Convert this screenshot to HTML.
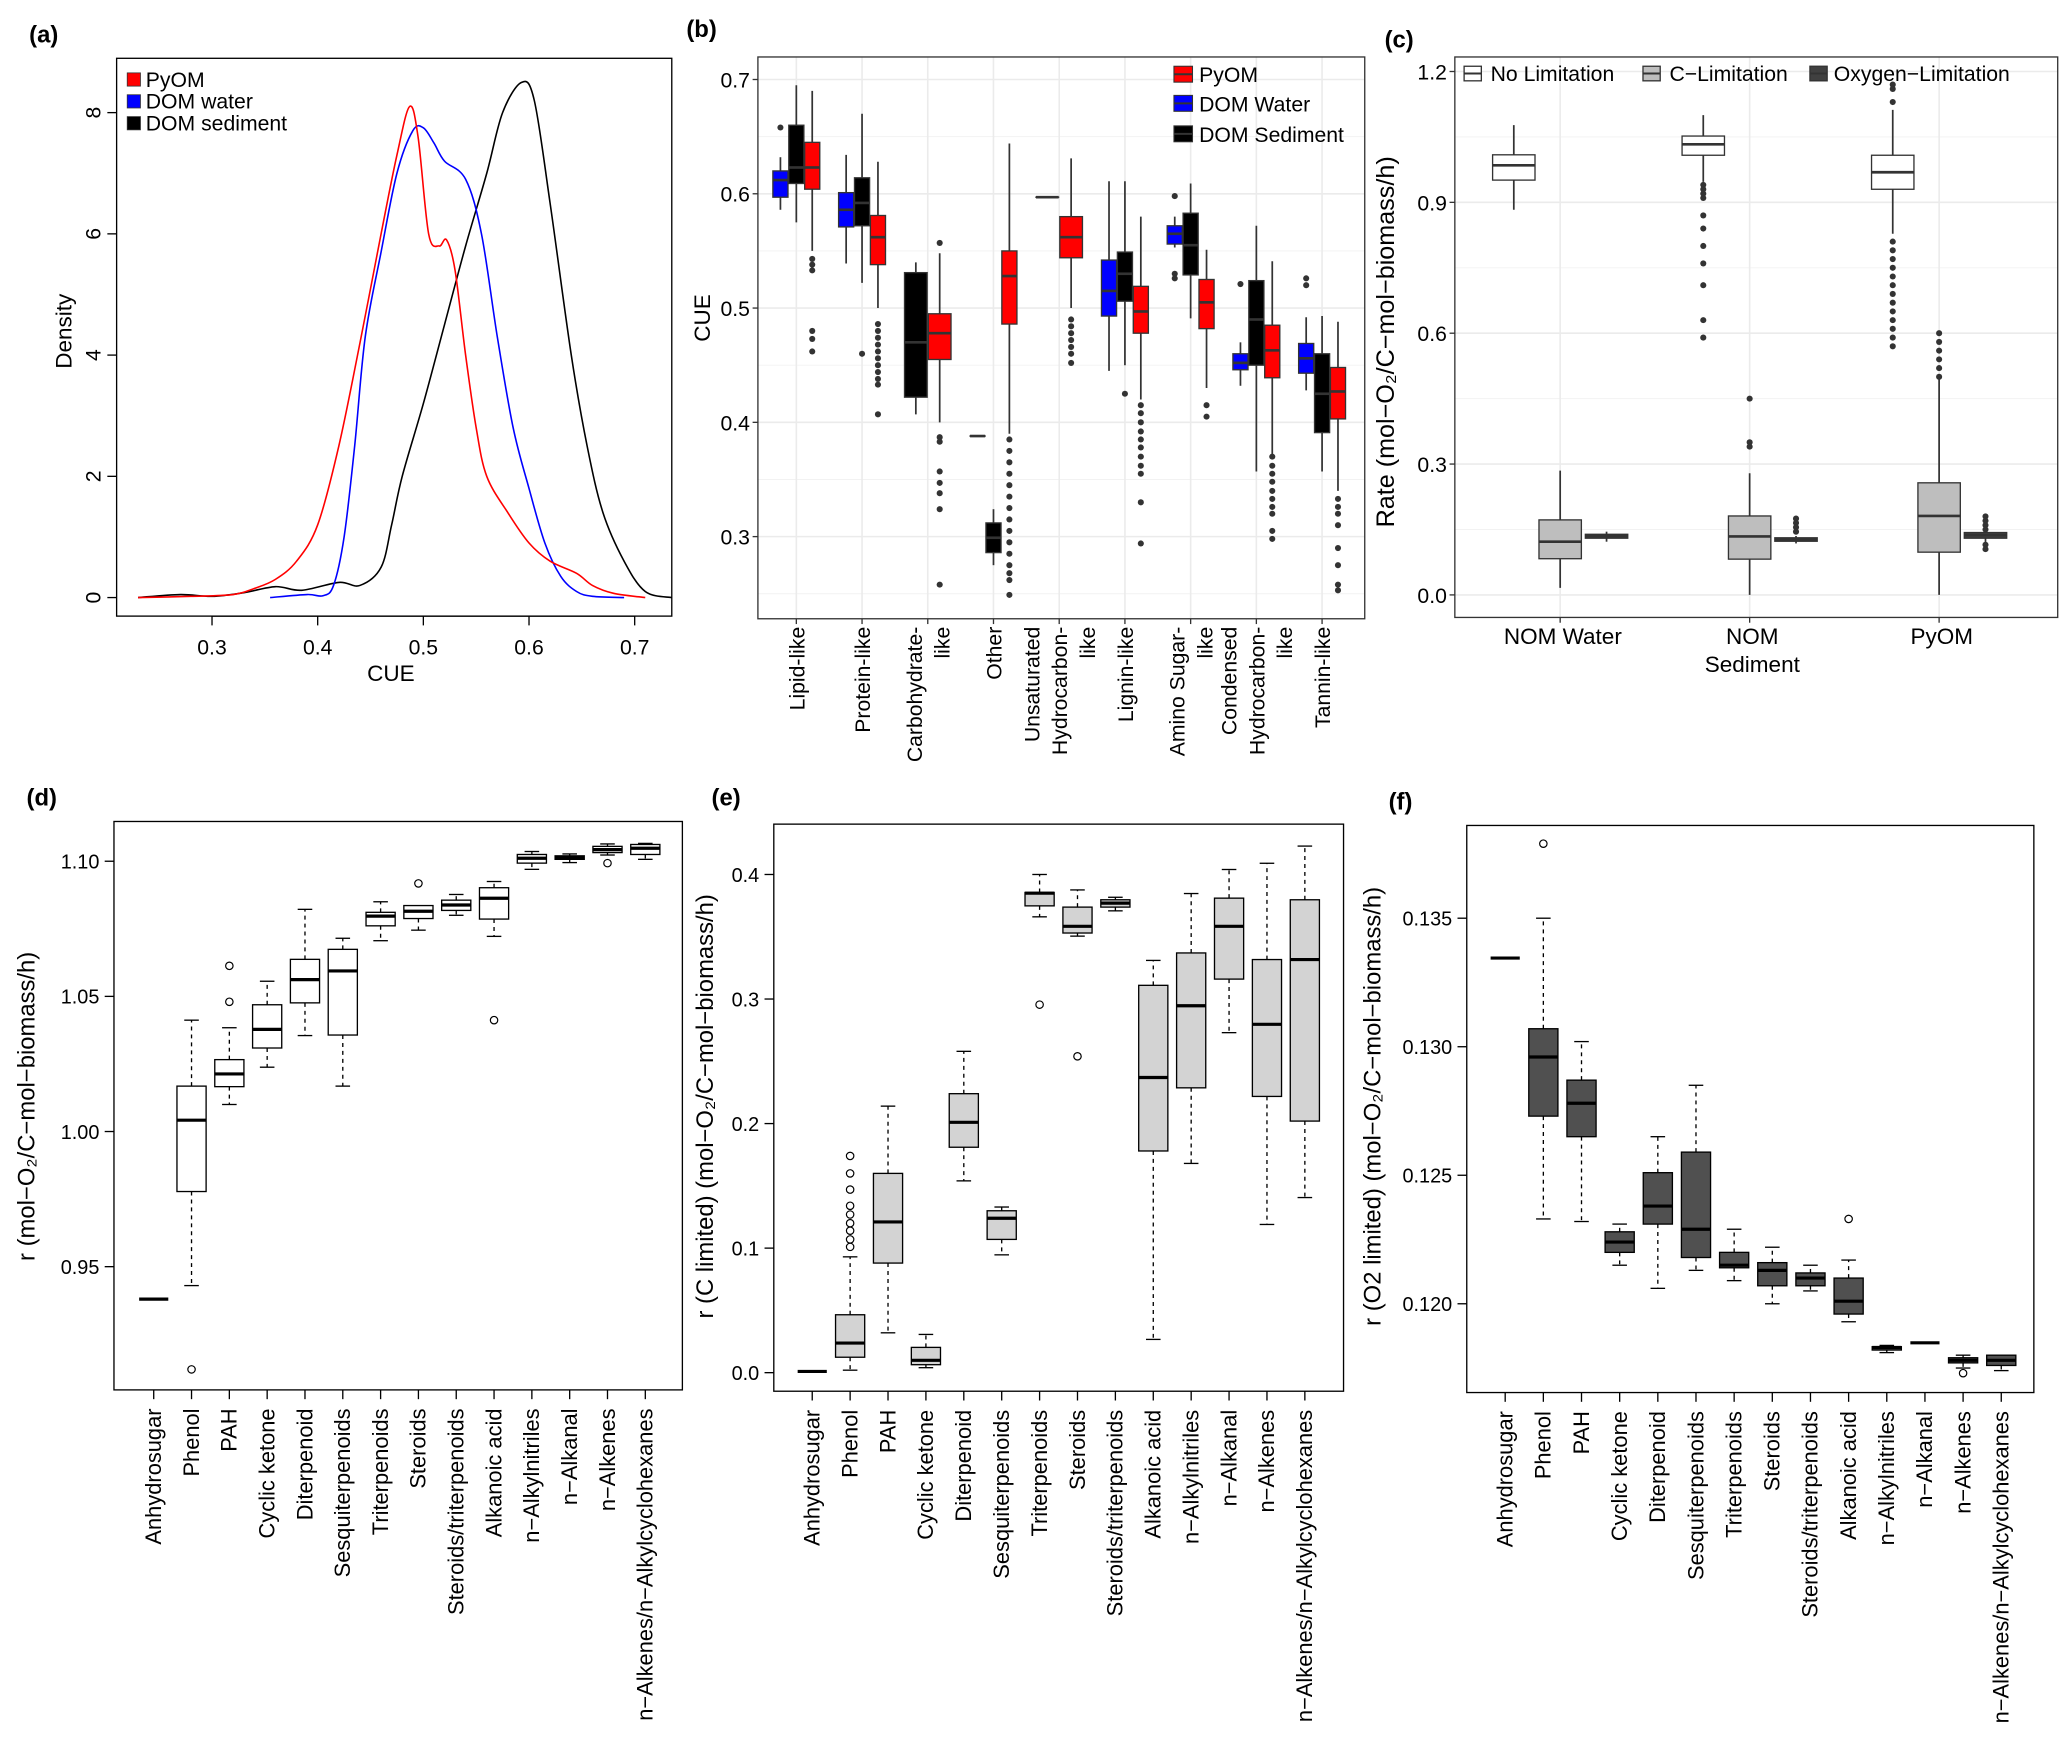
<!DOCTYPE html>
<html><head><meta charset="utf-8"><title>CUE and rate figure</title>
<style>
html,body{margin:0;padding:0;background:#fff;}
svg{display:block;font-family:"Liberation Sans",Arial,sans-serif;}
</style></head>
<body>
<svg id="chart" xmlns="http://www.w3.org/2000/svg" width="2067" height="1743" viewBox="0 0 1560 1315.5">
<rect x="0" y="0" width="1560" height="1315.5" fill="#fff"/>
</svg>
<script>
// ---------- Panel (a) density data ----------
const pyomX=[0.23,0.28,0.32,0.34,0.36,0.38,0.40,0.42,0.44,0.46,0.475,0.487,0.495,0.505,0.515,0.522,0.53,0.54,0.55,0.56,0.58,0.60,0.62,0.645,0.66,0.68,0.71];
const pyomY=[0,0.02,0.05,0.15,0.3,0.6,1.2,2.5,4.2,6.0,7.3,8.1,7.6,6.0,5.8,5.9,5.4,4.0,2.8,2.0,1.4,0.9,0.6,0.4,0.2,0.07,0];
const waterX=[0.355,0.39,0.405,0.415,0.425,0.435,0.445,0.46,0.475,0.49,0.50,0.51,0.52,0.54,0.555,0.57,0.585,0.60,0.615,0.63,0.645,0.66,0.69];
const waterY=[0,0.05,0.03,0.2,1.0,2.5,4.3,5.7,7.0,7.7,7.75,7.5,7.2,6.9,6.0,4.3,2.8,1.8,0.9,0.35,0.1,0.02,0];
const sedX=[0.23,0.27,0.30,0.33,0.36,0.385,0.42,0.44,0.46,0.47,0.48,0.50,0.52,0.54,0.56,0.575,0.593,0.605,0.62,0.64,0.655,0.67,0.69,0.71,0.735];
const sedY=[0,0.05,0.02,0.08,0.18,0.12,0.25,0.2,0.5,1.2,2.0,3.2,4.5,5.8,7.0,8.0,8.5,8.2,6.5,4.0,2.5,1.4,0.6,0.1,0];
const aXTicks=[0.3,0.4,0.5,0.6,0.7];
const aYTicks=[0,2,4,6,8];

// ---------- Panel (b) CUE boxplots ----------
const bCats=[["Lipid-like"],["Protein-like"],["Carbohydrate-","like"],["Other"],["Unsaturated","Hydrocarbon-","like"],["Lignin-like"],["Amino Sugar-","like"],["Condensed","Hydrocarbon-","like"],["Tannin-like"]];
const bSeriesNames=["DOM Water","DOM Sediment","PyOM"];
const bWater=[[0.586,0.597,0.612,0.620,0.632],[0.539,0.571,0.586,0.601,0.634],null,[0.388,0.388,0.388,0.388,0.388],[0.597,0.597,0.597,0.597,0.597],[0.445,0.493,0.515,0.542,0.611],[0.553,0.556,0.565,0.572,0.58],[0.432,0.446,0.452,0.460,0.470],[0.428,0.443,0.456,0.469,0.492]];
const bSed=[[0.575,0.609,0.623,0.660,0.695],[0.522,0.572,0.592,0.614,0.670],[0.407,0.422,0.470,0.531,0.540],[0.275,0.286,0.299,0.312,0.324],null,[0.450,0.506,0.530,0.549,0.611],[0.491,0.529,0.555,0.583,0.609],[0.357,0.450,0.490,0.524,0.572],[0.357,0.391,0.425,0.460,0.493]];
const bPyom=[[0.55,0.604,0.623,0.645,0.690],[0.50,0.538,0.562,0.581,0.628],[0.40,0.455,0.478,0.495,0.548],[0.39,0.486,0.528,0.550,0.644],[0.50,0.544,0.562,0.580,0.631],[0.42,0.478,0.497,0.519,0.580],[0.43,0.482,0.505,0.525,0.551],[0.37,0.439,0.463,0.485,0.541],[0.34,0.403,0.427,0.448,0.488]];
const bWaterOut=[[0.658],[],[],[],[],[],[0.598,0.530,0.526],[0.521],[0.526,0.52]];
const bSedOut=[[],[0.46],[],[],[],[0.425],[],[],[]];
const bPyomOut=[[0.543,0.538,0.533,0.48,0.473,0.462],[0.486,0.48,0.474,0.468,0.462,0.456,0.45,0.444,0.438,0.433,0.407],[0.557,0.387,0.383,0.357,0.347,0.338,0.324,0.258],[0.385,0.375,0.365,0.355,0.345,0.335,0.325,0.315,0.305,0.295,0.285,0.275,0.268,0.262,0.249],[0.49,0.484,0.478,0.472,0.466,0.46,0.452],[0.415,0.408,0.4,0.392,0.385,0.378,0.37,0.362,0.355,0.33,0.294],[0.415,0.405],[0.37,0.362,0.355,0.348,0.34,0.333,0.326,0.32,0.305,0.298],[0.333,0.326,0.32,0.31,0.29,0.275,0.258,0.253]];
const bYTicks=[0.3,0.4,0.5,0.6,0.7];

// ---------- Panel (c) rates ----------
const cCats=[["NOM Water"],["NOM","Sediment"],["PyOM"]];
const cSeriesNames=["No Limitation","C-Limitation","Oxygen-Limitation"];
const cNoLim=[[0.883,0.951,0.985,1.009,1.077],[0.947,1.008,1.033,1.052,1.100],[0.828,0.930,0.969,1.008,1.112]];
const cCLim=[[0.016,0.083,0.122,0.172,0.285],[0.0,0.082,0.134,0.181,0.279],[0.0,0.098,0.181,0.257,0.498]];
const cOLim=[[0.122,0.130,0.135,0.139,0.145],[0.118,0.123,0.127,0.131,0.135],[0.12,0.130,0.137,0.143,0.15]];
const cNoLimOut=[[],[0.94,0.93,0.92,0.91,0.87,0.84,0.80,0.76,0.71,0.63,0.59],[1.17,1.16,1.13,0.81,0.79,0.77,0.75,0.73,0.71,0.69,0.67,0.65,0.63,0.61,0.59,0.57]];
const cCLimOut=[[],[0.45,0.35,0.34],[0.60,0.58,0.56,0.54,0.52,0.50]];
const cOLimOut=[[],[0.175,0.165,0.155,0.145],[0.18,0.17,0.16,0.15,0.115,0.105]];
const cYTicks=[0.0,0.3,0.6,0.9,1.2];

// ---------- Panels (d)(e)(f) ----------
const dfCats=["Anhydrosugar","Phenol","PAH","Cyclic ketone","Diterpenoid","Sesquiterpenoids","Triterpenoids","Steroids","Steroids/triterpenoids","Alkanoic acid","n\u2212Alkylnitriles","n\u2212Alkanal","n\u2212Alkenes","n\u2212Alkenes/n\u2212Alkylcyclohexanes"];
const dLo=[0.938,0.943,1.010,1.0238,1.0355,1.0168,1.0706,1.0745,1.080,1.0722,1.097,1.0995,1.1023,1.1007];
const dQ1=[0.938,0.9778,1.0166,1.0309,1.0476,1.0357,1.0761,1.0788,1.0818,1.0786,1.0993,1.1007,1.1032,1.1025];
const dMed=[0.938,1.0042,1.0213,1.0378,1.0562,1.0594,1.0797,1.0815,1.0838,1.0863,1.1011,1.1014,1.1043,1.1048];
const dQ3=[0.938,1.0168,1.0266,1.0469,1.0637,1.0674,1.0811,1.0836,1.0856,1.0902,1.1025,1.102,1.1055,1.1062];
const dHi=[0.938,1.0412,1.0384,1.0556,1.0822,1.0715,1.085,1.0836,1.0877,1.0925,1.1036,1.1027,1.1064,1.1066];
const dOut=[[],[0.912],[1.048,1.0613],[],[],[],[],[1.0918],[],[1.0412],[],[],[1.0993],[]];
const dYTicks=[0.95,1.00,1.05,1.10];

const eLo=[0.001,0.002,0.032,0.004,0.154,0.0946,0.366,0.3505,0.3708,0.0267,0.168,0.273,0.119,0.1406];
const eQ1=[0.001,0.0124,0.088,0.0064,0.181,0.107,0.3748,0.353,0.3738,0.178,0.2287,0.316,0.2218,0.202];
const eMed=[0.001,0.0238,0.121,0.0099,0.201,0.124,0.385,0.3584,0.377,0.237,0.2946,0.3584,0.2797,0.3317];
const eQ3=[0.001,0.0465,0.160,0.0203,0.224,0.130,0.3856,0.3738,0.3797,0.311,0.337,0.381,0.3317,0.3797];
const eHi=[0.001,0.093,0.214,0.0307,0.258,0.133,0.40,0.3876,0.3817,0.331,0.3847,0.404,0.409,0.4228];
const eOut=[[],[0.174,0.160,0.147,0.134,0.127,0.120,0.114,0.107,0.101],[],[],[],[],[0.2955],[0.254],[],[],[],[],[],[]];
const eYTicks=[0.0,0.1,0.2,0.3,0.4];

const fLo=[0.13345,0.1233,0.1232,0.1215,0.1206,0.1213,0.1209,0.1200,0.1205,0.1193,0.1181,0.11848,0.1175,0.1174];
const fQ1=[0.13345,0.1273,0.1265,0.1220,0.1231,0.1218,0.1214,0.1207,0.1207,0.1196,0.1182,0.11848,0.1177,0.1176];
const fMed=[0.13345,0.1296,0.1278,0.1224,0.1238,0.1229,0.1215,0.1213,0.1210,0.1201,0.1183,0.11848,0.1178,0.1178];
const fQ3=[0.13345,0.1307,0.1287,0.1228,0.1251,0.1259,0.1220,0.1216,0.1212,0.1210,0.11833,0.11848,0.1179,0.1180];
const fHi=[0.13345,0.135,0.1302,0.1231,0.1265,0.1285,0.1229,0.1222,0.1215,0.1217,0.11838,0.11848,0.1180,0.1180];
const fOut=[[],[0.1379],[],[],[],[],[],[],[],[0.1233],[],[],[0.1173],[]];
const fYTicks=[0.120,0.125,0.130,0.135];

// ---------- helpers ----------
const NS='http://www.w3.org/2000/svg';
const root=document.getElementById('chart');
function mk(tag,parent,name,attrs){
  const e=document.createElementNS(NS,tag);
  for(const k in attrs){e.setAttribute(k,attrs[k]);}
  
  
  parent.appendChild(e);
  return e;
}
function txt(parent,name,x,y,s,size,anchor,extra){
  const a=Object.assign({x:x,y:y,'font-size':size,'text-anchor':anchor||'middle',fill:'#000'},extra||{});
  const t=mk('text',parent,name,a);
  t.textContent=s;
  return t;
}
function rtxt(parent,name,x,y,s,size,anchor,extra){
  const a=Object.assign({x:x,y:y,'font-size':size,'text-anchor':anchor||'middle',fill:'#000',transform:'rotate(-90 '+x+' '+y+')'},extra||{});
  const t=mk('text',parent,name,a);
  t.textContent=s;
  return t;
}
function smoothPath(pts){
  let d='M'+pts[0][0].toFixed(2)+' '+pts[0][1].toFixed(2);
  for(let i=0;i<pts.length-1;i++){
    const p0=pts[i-1]||pts[i],p1=pts[i],p2=pts[i+1],p3=pts[i+2]||p2;
    const c1=[p1[0]+(p2[0]-p0[0])/6,p1[1]+(p2[1]-p0[1])/6];
    const c2=[p2[0]-(p3[0]-p1[0])/6,p2[1]-(p3[1]-p1[1])/6];
    d+=' C'+c1[0].toFixed(2)+' '+c1[1].toFixed(2)+' '+c2[0].toFixed(2)+' '+c2[1].toFixed(2)+' '+p2[0].toFixed(2)+' '+p2[1].toFixed(2);
  }
  return d;
}
function fmt(v,d){return v.toFixed(d);}

// ---------- panel labels ----------
const labels=[['(a)',22,32],['(b)',518,28],['(c)',1045,36],['(d)',20,608],['(e)',537,608],['(f)',1048,611]];
labels.forEach(l=>{txt(root,'panel-label-'+l[0].charAt(1),l[1],l[2],l[0],18,'start',{'font-weight':'bold'});});

// ================= Panel (a) =================
(function(){
  const g=mk('g',root,'panel-a-density',{});
  const xA=v=>160+(v-0.3)*797.5;
  const yA=d=>451-d*45.75;
  const series=[[sedX,sedY,'#000','dom-sediment'],[waterX,waterY,'#0000ff','dom-water'],[pyomX,pyomY,'#ff0000','pyom']];
  series.forEach(s=>{
    const pts=s[0].map((x,i)=>[xA(x),yA(s[1][i])]);
    mk('path',g,'density-line-'+s[3],{d:smoothPath(pts),fill:'none',stroke:s[2],'stroke-width':1.2});
  });
  mk('rect',g,'plot-frame-a',{x:88,y:44,width:419,height:421,fill:'none',stroke:'#000','stroke-width':1});
  aXTicks.forEach(v=>{
    mk('line',g,'x-tick-a',{x1:xA(v),x2:xA(v),y1:465,y2:472,stroke:'#000'});
    txt(g,'x-tick-label-a',xA(v),494,fmt(v,1),16);
  });
  mk('line',g,'x-axis-a',{x1:xA(0.3),x2:xA(0.7),y1:465,y2:465,stroke:'#000'});
  aYTicks.forEach(v=>{
    mk('line',g,'y-tick-a',{x1:81,x2:88,y1:yA(v),y2:yA(v),stroke:'#000'});
    rtxt(g,'y-tick-label-a',76,yA(v),String(v),16);
  });
  txt(g,'x-axis-title-a',295,514,'CUE',17);
  rtxt(g,'y-axis-title-a',54,250,'Density',17);
  const leg=[['PyOM','#ff0000',60],['DOM water','#0000ff',76.5],['DOM sediment','#000',93]];
  leg.forEach(l=>{
    mk('rect',g,'legend-key-a',{x:96,y:l[2]-5,width:10,height:10,fill:l[1],stroke:'#333','stroke-width':0.6});
    txt(g,'legend-entry-a',110,l[2]+5.5,l[0],16,'start');
  });
})();

// ================= generic ggplot-like box =================
function ggBox(g,cx,w,st,outs,fill,yS,name){
  const bg=mk('g',g,name,{});
  mk('line',bg,'whisker',{x1:cx,x2:cx,y1:yS(st[0]),y2:yS(st[4]),stroke:'#333','stroke-width':1.3});
  const top=yS(st[3]),bot=yS(st[1]);
  mk('rect',bg,'box',{x:cx-w/2,y:top,width:w,height:Math.max(bot-top,0.01),fill:fill,stroke:'#333','stroke-width':1});
  mk('line',bg,'median',{x1:cx-w/2,x2:cx+w/2,y1:yS(st[2]),y2:yS(st[2]),stroke:'#333','stroke-width':2});
  outs.forEach(o=>{mk('circle',bg,'outlier',{cx:cx,cy:yS(o),r:2.3,fill:'#333'});});
}

// ================= Panel (b) =================
(function(){
  const g=mk('g',root,'panel-b-cue-boxplot',{});
  const L=572,R=1030,T=43,B=467;
  const yB=v=>405-(v-0.3)*862.5;
  const xB=i=>601+i*49.6;
  mk('rect',g,'plot-background-b',{x:L,y:T,width:R-L,height:B-T,fill:'#fff'});
  [0.25,0.35,0.45,0.55,0.65].forEach(v=>mk('line',g,'minor-grid-b',{x1:L,x2:R,y1:yB(v),y2:yB(v),stroke:'#f2f2f2','stroke-width':0.7}));
  bYTicks.forEach(v=>mk('line',g,'major-grid-b',{x1:L,x2:R,y1:yB(v),y2:yB(v),stroke:'#ebebeb','stroke-width':1.2}));
  bCats.forEach((c,i)=>mk('line',g,'major-grid-b',{x1:xB(i),x2:xB(i),y1:T,y2:B,stroke:'#ebebeb','stroke-width':1.2}));
  const series=[[bWater,bWaterOut,'#0000ff','dom-water'],[bSed,bSedOut,'#000000','dom-sediment'],[bPyom,bPyomOut,'#ff0000','pyom']];
  bCats.forEach((c,i)=>{
    const present=series.filter(s=>s[0][i]);
    const n=present.length,w=36/n;
    present.forEach((s,k)=>{
      const cx=xB(i)-18+w*(k+0.5);
      ggBox(g,cx,w*0.95,s[0][i],s[1][i],s[2],yB,'box-'+s[3]);
    });
  });
  mk('rect',g,'plot-frame-b',{x:L,y:T,width:R-L,height:B-T,fill:'none',stroke:'#333','stroke-width':1});
  bYTicks.forEach(v=>{
    mk('line',g,'y-tick-b',{x1:L-4,x2:L,y1:yB(v),y2:yB(v),stroke:'#333'});
    txt(g,'y-tick-label-b',L-6,yB(v)+6,fmt(v,1),16,'end');
  });
  bCats.forEach((c,i)=>{
    mk('line',g,'x-tick-b',{x1:xB(i),x2:xB(i),y1:B,y2:B+4,stroke:'#333'});
    c.forEach((s,k)=>{
      const x=xB(i)+(k-(c.length-1)/2)*21+6;
      rtxt(g,'x-tick-label-b',x,B+6,s,16,'end');
    });
  });
  rtxt(g,'y-axis-title-b',536,240,'CUE',17);
  const leg=[['PyOM','#ff0000',56],['DOM Water','#0000ff',78],['DOM Sediment','#000',101]];
  leg.forEach(l=>{
    mk('rect',g,'legend-key-b',{x:886,y:l[2]-6,width:14,height:12,fill:l[1],stroke:'#333','stroke-width':0.8});
    mk('line',g,'legend-key-median-b',{x1:886,x2:900,y1:l[2],y2:l[2],stroke:'#333','stroke-width':1.5});
    txt(g,'legend-entry-b',905,l[2]+6,l[0],16,'start');
  });
})();

// ================= Panel (c) =================
(function(){
  const g=mk('g',root,'panel-c-rate-boxplot',{});
  const L=1098,R=1553,T=43,B=466;
  const yC=v=>449-v*329.2;
  const xC=i=>1177.5+i*143;
  [0.15,0.45,0.75,1.05].forEach(v=>mk('line',g,'minor-grid-c',{x1:L,x2:R,y1:yC(v),y2:yC(v),stroke:'#f2f2f2','stroke-width':0.7}));
  cYTicks.forEach(v=>mk('line',g,'major-grid-c',{x1:L,x2:R,y1:yC(v),y2:yC(v),stroke:'#ebebeb','stroke-width':1.2}));
  cCats.forEach((c,i)=>mk('line',g,'major-grid-c',{x1:xC(i),x2:xC(i),y1:T,y2:B,stroke:'#ebebeb','stroke-width':1.2}));
  const series=[[cNoLim,cNoLimOut,'#ffffff','no-limitation'],[cCLim,cCLimOut,'#bebebe','c-limitation'],[cOLim,cOLimOut,'#404040','oxygen-limitation']];
  cCats.forEach((c,i)=>{
    series.forEach((s,k)=>{
      ggBox(g,xC(i)+(k-1)*35,32,s[0][i],s[1][i],s[2],yC,'box-'+s[3]);
    });
  });
  mk('rect',g,'plot-frame-c',{x:L,y:T,width:R-L,height:B-T,fill:'none',stroke:'#333','stroke-width':1});
  cYTicks.forEach(v=>{
    mk('line',g,'y-tick-c',{x1:L-4,x2:L,y1:yC(v),y2:yC(v),stroke:'#333'});
    txt(g,'y-tick-label-c',L-6,yC(v)+6,fmt(v,1),16,'end');
  });
  cCats.forEach((c,i)=>{
    mk('line',g,'x-tick-c',{x1:xC(i),x2:xC(i),y1:B,y2:B+4,stroke:'#333'});
    c.forEach((s,k)=>txt(g,'x-tick-label-c',xC(i)+2,486+k*21,s,17));
  });
  rtxt(g,'y-axis-title-c',1052,258,'Rate (mol\u2212O\u2082/C\u2212mol\u2212biomass/h)',19);
  const leg=[['No Limitation','#ffffff',1105,1125],['C\u2212Limitation','#bebebe',1240,1260],['Oxygen\u2212Limitation','#404040',1366,1384]];
  leg.forEach(l=>{
    mk('rect',g,'legend-key-c',{x:l[2],y:50,width:13,height:11,fill:l[1],stroke:'#333','stroke-width':1});
    mk('line',g,'legend-key-median-c',{x1:l[2],x2:l[2]+13,y1:55.5,y2:55.5,stroke:'#333','stroke-width':1.5});
    txt(g,'legend-entry-c',l[3],61,l[0],16,'start');
  });
})();

// ================= Base-R style panels (d)(e)(f) =================
function basePanel(cfg){
  const g=mk('g',root,cfg.name,{});
  const L=cfg.L,R=cfg.R,T=cfg.T,B=cfg.B,yS=cfg.y,xS=cfg.x;
  dfCats.forEach((c,i)=>{
    const cx=xS(i),w=22,st=[cfg.lo[i],cfg.q1[i],cfg.med[i],cfg.q3[i],cfg.hi[i]];
    const bg=mk('g',g,'box-'+c.replace(/[^A-Za-z]+/g,'-').toLowerCase(),{});
    if(st[4]>st[3]){
      mk('line',bg,'whisker-upper',{x1:cx,x2:cx,y1:yS(st[3]),y2:yS(st[4]),stroke:'#000','stroke-dasharray':'3,3'});
      mk('line',bg,'whisker-cap',{x1:cx-5.5,x2:cx+5.5,y1:yS(st[4]),y2:yS(st[4]),stroke:'#000'});
    }
    if(st[0]<st[1]){
      mk('line',bg,'whisker-lower',{x1:cx,x2:cx,y1:yS(st[1]),y2:yS(st[0]),stroke:'#000','stroke-dasharray':'3,3'});
      mk('line',bg,'whisker-cap',{x1:cx-5.5,x2:cx+5.5,y1:yS(st[0]),y2:yS(st[0]),stroke:'#000'});
    }
    const top=yS(st[3]),bot=yS(st[1]);
    if(bot-top>0.3){mk('rect',bg,'box',{x:cx-w/2,y:top,width:w,height:bot-top,fill:cfg.fill,stroke:'#000','stroke-width':1});}
    mk('line',bg,'median',{x1:cx-w/2,x2:cx+w/2,y1:yS(st[2]),y2:yS(st[2]),stroke:'#000','stroke-width':2.4});
    cfg.out[i].forEach(o=>mk('circle',bg,'outlier',{cx:cx,cy:yS(o),r:2.8,fill:'none',stroke:'#000','stroke-width':0.9}));
    mk('line',g,'x-tick',{x1:cx,x2:cx,y1:B,y2:B+7,stroke:'#000'});
    rtxt(g,'x-tick-label',cx+5.5,B+14,c,16.5,'end');
  });
  mk('rect',g,'plot-frame',{x:L,y:T,width:R-L,height:B-T,fill:'none',stroke:'#000','stroke-width':1});
  cfg.ticks.forEach(v=>{
    mk('line',g,'y-tick',{x1:L-7,x2:L,y1:yS(v),y2:yS(v),stroke:'#000'});
    txt(g,'y-tick-label',L-11,yS(v)+5.5,fmt(v,cfg.dec),15,'end');
  });
  rtxt(g,'y-axis-title',cfg.titleX,835,cfg.title,18);
}
basePanel({name:'panel-d-rate-no-limit',L:86,R:515,T:620,B:1049,x:i=>116+i*28.54,y:v=>854-(v-1)*2040,fill:'#ffffff',lo:dLo,q1:dQ1,med:dMed,q3:dQ3,hi:dHi,out:dOut,ticks:dYTicks,dec:2,titleX:26,title:'r (mol\u2212O\u2082/C\u2212mol\u2212biomass/h)'});
basePanel({name:'panel-e-rate-c-limited',L:584,R:1014,T:622,B:1050,x:i=>613+i*28.6,y:v=>1036-v*940,fill:'#d3d3d3',lo:eLo,q1:eQ1,med:eMed,q3:eQ3,hi:eHi,out:eOut,ticks:eYTicks,dec:1,titleX:538,title:'r (C limited) (mol\u2212O\u2082/C\u2212mol\u2212biomass/h)'});
basePanel({name:'panel-f-rate-o2-limited',L:1107,R:1535,T:623,B:1051,x:i=>1136+i*28.8,y:v=>984-(v-0.12)*19400,fill:'#505050',lo:fLo,q1:fQ1,med:fMed,q3:fQ3,hi:fHi,out:fOut,ticks:fYTicks,dec:3,titleX:1042,title:'r (O2 limited) (mol\u2212O\u2082/C\u2212mol\u2212biomass/h)'});
</script>
</body></html>
